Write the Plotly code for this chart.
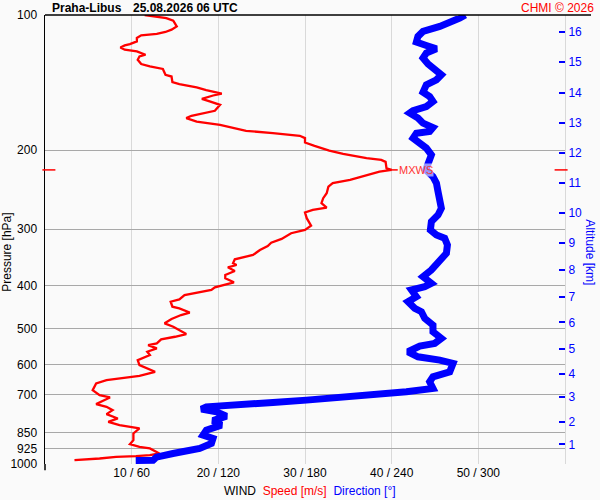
import math
import plotly.graph_objects as go

# ---- data ----
speed_ms = [11.5,14.0,14.8,15.2,14.6,13.9,12.9,11.1,10.6,10.6,
            9.8,9.2,8.7,9.2,10.6,11.6,10.9,10.7,11.1,12.1,
            13.6,13.9,14.6,14.7,15.5,17.5,18.6,20.4,19.4,18.1,
            19.0,20.2,19.6,18.0,16.9,16.3,17.5,20.2,23.2,26.3,
            29.4,30.0,30.0,31.1,32.8,34.4,37.1,38.8,39.3,39.4,
            40.0,38.6,36.5,35.2,33.2,32.7,32.5,32.1,31.9,32.5,
            30.9,30.0,30.2,30.7,30.0,28.4,27.3,26.1,25.7,24.8,
            24.0,22.8,21.9,21.7,22.1,21.1,21.9,20.8,20.8,21.8,
            20.5,19.6,19.2,17.3,16.1,15.5,14.5,14.7,15.5,16.7,
            15.7,14.6,13.8,14.8,16.3,15.0,13.4,12.9,11.9,12.9,
            11.8,12.1,10.7,10.9,11.7,12.7,10.9,8.6,7.1,5.9,
            5.5,6.3,7.5,6.7,5.9,7.1,7.8,7.1,8.4,7.3,
            8.6,10.9,10.2,10.2,9.8,10.9,12.1,13.2,12.1,10.5,8.2,6.3,3.4]
speed_p = [100.0,101.6,103.0,106.0,107.8,109.1,110.2,111.0,112.5,114.5,
           116.1,116.9,118.1,119.5,120.5,122.6,123.7,125.8,128.6,130.2,
           131.9,135.9,137.1,141.1,142.5,145.0,147.0,149.6,151.1,153.7,
           155.8,158.5,163.4,166.2,167.7,169.7,172.7,175.6,181.1,183.3,
           185.8,188.0,192.3,195.6,200.4,203.8,208.4,210.2,212.4,219.4,
           221.3,223.2,229.0,232.9,236.9,241.1,249.4,255.9,262.5,268.5,
           271.7,275.2,283.5,294.5,301.1,306.2,315.3,321.4,326.9,333.7,
           342.3,347.1,350.0,357.2,360.4,364.7,371.6,379.4,385.8,393.8,
           399.3,404.1,409.7,415.4,420.4,429.8,435.1,446.4,450.1,459.9,
           465.8,475.5,486.1,494.7,513.6,520.7,527.7,538.7,543.4,552.7,
           562.4,572.0,586.9,602.2,612.5,623.2,636.2,644.7,650.4,661.5,
           684.6,702.4,710.8,723.3,735.7,745.9,758.7,774.4,791.7,805.7,
           819.4,833.4,855.1,885.0,903.4,916.0,923.5,947.6,955.9,960.8,964.2,972.2,980.7]

direction_deg = [291.0,287.1,273.3,261.7,258.2,257.1,264.0,271.0,264.0,261.7,
                 265.2,271.0,274.4,271.0,264.0,261.7,266.3,268.6,264.0,254.8,
                 252.5,258.2,261.7,268.6,266.3,257.1,254.8,259.4,264.0,267.5,
                 265.2,263.6,268.6,271.0,272.1,273.3,274.4,272.1,267.5,266.8,
                 271.0,276.7,278.6,277.9,273.3,267.5,261.7,267.5,262.9,253.7,
                 257.1,251.3,256.0,260.6,262.9,268.6,268.6,274.4,269.8,259.4,
                 251.3,258.2,273.3,282.5,280.2,268.6,266.3,268.6,250.2,227.1,
                 204.0,181.0,157.8,134.8,111.7,108.3,118.7,125.6,116.3,122.1,
                 111.7,109.4,116.3,115.2,107.1,88.6,77.1,74.8,62.8]
direction_p = [100.0,101.6,106.0,108.8,111.6,114.9,116.9,118.9,121.5,124.7,
               128.6,132.4,135.9,139.4,143.0,148.5,151.9,155.8,159.9,163.4,
               165.4,169.7,174.1,178.1,181.8,183.3,188.0,192.9,197.9,204.9,
               212.0,221.3,229.0,236.9,247.4,255.9,269.4,278.8,288.5,301.1,
               308.9,314.2,325.2,339.4,354.3,369.7,382.7,395.9,402.8,409.7,
               424.1,435.1,450.1,458.0,473.8,490.4,507.5,525.0,538.7,546.2,
               562.4,577.0,586.9,596.9,623.2,639.5,656.1,678.7,690.6,702.4,
               710.8,720.7,729.3,736.8,745.9,754.8,765.3,782.4,800.7,819.4,
               840.7,862.5,877.3,900.1,923.5,947.6,965.7,981.0,982.0]

pressure_ticks = [100, 200, 300, 400, 500, 600, 700, 850, 925, 1000]
speed_ticks = [10, 20, 30, 40, 50]
speed_ticktext = ["10 / 60", "20 / 120", "30 / 180", "40 / 240", "50 / 300"]
altitude_km = [1, 2, 3, 4, 5, 6, 7, 8, 9, 10, 11, 12, 13, 14, 15, 16]
altitude_p = [904.5, 805.6, 708.6, 630.6, 553.8, 483.6, 424.2, 369.8,
              322.4, 276.4, 236.9, 203.0, 173.6, 148.8, 127.1, 109.1]

# max wind
imax = max(range(len(speed_ms)), key=lambda i: speed_ms[i])
mxws_speed = speed_ms[imax]
mxws_p = speed_p[imax]

FONT = "Liberation Sans, Arial, sans-serif"
BG = "#fafafa"

fig = go.Figure()
fig.add_trace(go.Scatter(x=direction_deg, y=direction_p, xaxis="x2", yaxis="y",
                         mode="lines", line=dict(color="#0000ff", width=7),
                         showlegend=False, hoverinfo="skip"))
fig.add_trace(go.Scatter(x=speed_ms, y=speed_p, xaxis="x", yaxis="y",
                         mode="lines", line=dict(color="#ff0000", width=2.3),
                         showlegend=False, hoverinfo="skip"))
# helper trace so the altitude axis is drawn
fig.add_trace(go.Scatter(x=[None], y=[None], xaxis="x", yaxis="y2",
                         mode="lines", showlegend=False, hoverinfo="skip"))

fig.update_layout(
    width=600, height=500,
    margin=dict(l=45, r=35, t=15, b=36, autoexpand=False),
    paper_bgcolor=BG, plot_bgcolor=BG,
    font=dict(family=FONT, size=12, color="#000000"),
    xaxis=dict(range=[0, 60], tickvals=speed_ticks, ticktext=speed_ticktext,
               showgrid=True, gridcolor="#d9d9d9", gridwidth=1,
               zeroline=False, showline=False, ticks="", automargin=False,
               tickfont=dict(family=FONT, size=12, color="#000000")),
    xaxis2=dict(range=[0, 360], overlaying="x", anchor="y", visible=False),
    yaxis=dict(type="log", range=[3, 2], tickvals=pressure_ticks,
               ticktext=[str(v) for v in pressure_ticks],
               showgrid=True, gridcolor="#a8a8a8", gridwidth=1,
               zeroline=False, showline=True, linecolor="#000000", linewidth=1.5,
               ticks="", ticklabelstandoff=4, automargin=False,
               tickfont=dict(family=FONT, size=12, color="#000000")),
    yaxis2=dict(type="log", range=[3, 2], overlaying="y", side="right", anchor="x",
                tickvals=altitude_p, ticktext=[str(k) for k in altitude_km],
                showgrid=False, zeroline=False, showline=True, automargin=False,
                linecolor="#d9d9d9", linewidth=1,
                ticks="inside", ticklen=6, tickwidth=2, tickcolor="#0000ff",
                tickfont=dict(family=FONT, size=12, color="#0000ff")),
)

shapes = []
# top border (100 hPa) extending to the right margin
shapes.append(dict(type="line", xref="paper", yref="paper", x0=0, x1=1.05, y0=1, y1=1,
                   line=dict(color="#000000", width=1.5)))
# left axis extension below plot
shapes.append(dict(type="line", xref="paper", yref="paper", x0=0, x1=0, y0=-0.014, y1=0,
                   line=dict(color="#000000", width=1.5)))
# MXWS ticks on both sides
shapes.append(dict(type="line", xref="paper", yref="y", x0=-0.005, x1=0.02,
                   y0=mxws_p, y1=mxws_p, line=dict(color="#ff0000", width=1.5)))
shapes.append(dict(type="line", xref="paper", yref="y", x0=0.98, x1=1.005,
                   y0=mxws_p, y1=mxws_p, line=dict(color="#ff0000", width=1.5)))
# connector to MXWS label
shapes.append(dict(type="line", xref="x", yref="y", x0=mxws_speed, x1=mxws_speed + 0.7,
                   y0=mxws_p, y1=mxws_p, line=dict(color="#ff0000", width=1.5)))
fig.update_layout(shapes=shapes)

ann = []
# annotations on a log axis take log10 positions
ann.append(dict(xref="x", yref="y", x=mxws_speed + 0.75, y=math.log10(mxws_p),
                xanchor="left", yanchor="middle", text="MXWS", showarrow=False,
                font=dict(family=FONT, size=11, color="#ff3333"),
                bgcolor="rgba(250,250,250,0.6)", borderpad=0))
ann.append(dict(xref="paper", yref="paper", x=0.009, y=1.0156, xanchor="left",
                yanchor="middle", text="<b>Praha-Libus</b>", showarrow=False,
                font=dict(family=FONT, size=12, color="#000000")))
ann.append(dict(xref="paper", yref="paper", x=0.165, y=1.0156, xanchor="left",
                yanchor="middle", text="<b>25.08.2026 06 UTC</b>", showarrow=False,
                font=dict(family=FONT, size=12, color="#000000")))
ann.append(dict(xref="paper", yref="paper", x=1.059, y=1.0156, xanchor="right",
                yanchor="middle", text="CHMI © 2026", showarrow=False,
                font=dict(family=FONT, size=12, color="#ff0000")))
ann.append(dict(xref="paper", yref="paper", x=-0.0737, y=0.472, xanchor="center",
                yanchor="middle", text="Pressure [hPa]", textangle=-90, showarrow=False,
                font=dict(family=FONT, size=12, color="#000000")))
ann.append(dict(xref="paper", yref="paper", x=1.0475, y=0.472, xanchor="center",
                yanchor="middle", text="Altitude [km]", textangle=90, showarrow=False,
                font=dict(family=FONT, size=12, color="#0000ff")))
ann.append(dict(xref="paper", yref="paper", x=0.51, y=-0.061, xanchor="center",
                yanchor="middle", showarrow=False,
                text="WIND  <span style='color:#ff0000'>Speed [m/s]</span>  "
                     "<span style='color:#0000ff'>Direction [°]</span>",
                font=dict(family=FONT, size=12, color="#000000")))
fig.update_layout(annotations=ann)

fig.write_html("out.html",
               config={"displayModeBar": False, "staticPlot": True},
               post_script="document.body.style.margin='0';"
                           "document.body.style.background='#fafafa';")
